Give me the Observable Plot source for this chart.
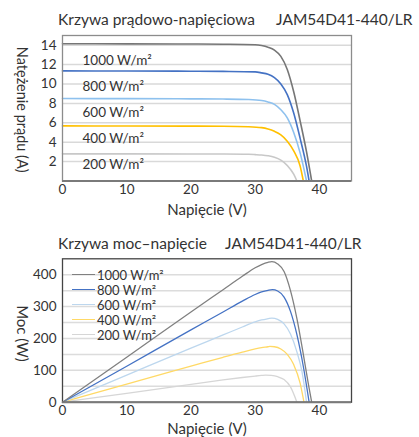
<!DOCTYPE html>
<html><head><meta charset="utf-8">
<script src="https://cdn.jsdelivr.net/npm/d3@7"></script>
<script src="https://cdn.jsdelivr.net/npm/@observablehq/plot@0.6"></script>
<style>
body{margin:0;background:#fff;font-family:Lato,"Open Sans",sans-serif;}
#wrap{position:relative;width:419px;height:437px;overflow:hidden;background:#fff;}
#wrap svg{position:absolute;left:0;}
.t{position:absolute;font-size:15.5px;color:#333;white-space:nowrap;line-height:20px;}
.lg{position:absolute;font-size:13px;color:#333;white-space:nowrap;line-height:14px;}
.lgl{position:absolute;height:0;border-top:1.5px solid #888;}
</style></head><body><div id="wrap"></div>
<script>
// ---- data ----
const series = ["1000 W/m²", "800 W/m²", "600 W/m²", "400 W/m²", "200 W/m²"];
const ivColors = ["#767676", "#4472c4", "#8ec1ee", "#ffc000", "#c8c8c8"];
const pvColors = ["#808080", "#4472c4", "#bdd7ee", "#ffd966", "#d6d6d6"];
const xTicks = [0, 10, 20, 30, 40];
const currentTicks = [2, 4, 6, 8, 10, 12, 14];
const powerTicks = [0, 100, 200, 300, 400];
const powerGrid = [50, 100, 150, 200, 250, 300, 350, 400];

// I-V curves (voltage V, current A)
const iv1000V = [0, 10, 20, 25, 30, 31, 32, 33, 34, 35, 36, 37, 38, 38.8];
const iv1000I = [14.15, 14.14, 14.12, 14.1, 14.05, 13.97, 13.8, 13.5, 12.85, 11.5, 9.2, 6.2, 3.0, 0];
const iv800V = [0, 10, 20, 25, 30, 31, 32, 33, 34, 35, 36, 37, 38, 38.4];
const iv800I = [11.35, 11.34, 11.32, 11.3, 11.25, 11.15, 11.0, 10.65, 10.0, 8.9, 7.0, 4.4, 1.5, 0];
const iv600V = [0, 10, 20, 25, 29, 31, 32, 33, 34, 35, 36, 37, 38];
const iv600I = [8.5, 8.49, 8.47, 8.45, 8.4, 8.3, 8.15, 7.9, 7.35, 6.5, 5.0, 2.9, 0];
const iv400V = [0, 10, 20, 25, 29, 31, 32, 33, 34, 35, 36, 37, 37.5];
const iv400I = [5.68, 5.67, 5.66, 5.65, 5.6, 5.5, 5.36, 5.12, 4.75, 4.1, 3.1, 1.55, 0];
const iv200V = [0, 10, 20, 25, 29, 30, 31, 32, 33, 34, 35, 36, 36.5];
const iv200I = [2.8, 2.8, 2.79, 2.78, 2.75, 2.72, 2.68, 2.6, 2.45, 2.15, 1.6, 0.7, 0];

// P-V curves (voltage V, power W)
const pv1000V = [0, 10, 20, 25, 28, 30, 31, 32, 32.6, 33.5, 34.5, 35.5, 36.5, 37.5, 38.3, 38.8];
const pv1000P = [0, 141, 283, 353, 395, 422, 432, 439, 441, 434, 410, 350, 262, 150, 55, 0];
const pv800V = [0, 10, 20, 25, 28, 30, 31, 32, 32.7, 33.5, 34.5, 35.5, 36.5, 37.5, 38.4];
const pv800P = [0, 113, 227, 283, 317, 338, 346, 351, 353, 349, 330, 285, 212, 112, 0];
const pv600V = [0, 10, 20, 25, 28, 30, 31, 32, 32.6, 33.5, 34.5, 35.5, 36.5, 37.3, 38.0];
const pv600P = [0, 85, 170, 211, 236, 252, 258, 262, 264, 260, 246, 214, 158, 95, 0];
const pv400V = [0, 10, 20, 25, 28, 30, 31, 32, 32.3, 33, 34, 35, 36, 37, 37.6];
const pv400P = [0, 57, 113, 141, 157, 167, 171, 174, 175, 174, 167, 150, 118, 60, 0];
const pv200V = [0, 10, 20, 25, 28, 30, 31, 31.6, 32.5, 33.5, 34.5, 35.5, 36.5];
const pv200P = [0, 28, 56, 70, 77.5, 82, 84, 85, 84, 80, 71, 48, 0];

// ---- build rows ----
const ivSets = [[iv1000V, iv1000I], [iv800V, iv800I], [iv600V, iv600I], [iv400V, iv400I], [iv200V, iv200I]];
const pvSets = [[pv1000V, pv1000P], [pv800V, pv800P], [pv600V, pv600P], [pv400V, pv400P], [pv200V, pv200P]];
const ivRows = [], pvRows = [];
ivSets.forEach(([vs, is], k) => vs.forEach((v, j) => ivRows.push({s: series[k], v, y: is[j]})));
pvSets.forEach(([vs, ps], k) => vs.forEach((v, j) => pvRows.push({s: series[k], v, y: ps[j]})));
const ivDraw = ivRows.slice().reverse();
const pvDraw = pvRows.slice().reverse();

const W = 419;
const wrap = document.getElementById("wrap");
const baseStyle = {fontFamily: "Lato, 'Open Sans', sans-serif", fontSize: "13px", color: "#333", background: "transparent", overflow: "visible"};

// ---- chart 1: I-V ----
const c1 = Plot.plot({
  width: W, height: 220,
  marginLeft: 62, marginRight: 68, marginTop: 35, marginBottom: 39.5,
  style: baseStyle,
  x: {domain: [0, 45]},
  y: {domain: [0, 15]},
  color: {domain: series, range: ivColors},
  marks: [
    Plot.gridY(currentTicks, {stroke: "#d9d9d9", strokeOpacity: 1, strokeWidth: 1.5}),
    Plot.line(ivDraw, {x: "v", y: "y", z: "s", stroke: "s", curve: "monotone-x", strokeWidth: 1.6}),
    Plot.frame({stroke: "#8c8c8c", strokeWidth: 1.3}),
    Plot.ruleY([0], {stroke: "#7a7a7a", strokeWidth: 2}),
    Plot.axisX(xTicks, {tickSize: 0, tickPadding: 3, label: null, fontSize: 13.5}),
    Plot.axisY(currentTicks, {tickSize: 0, tickPadding: 6, label: null, fontSize: 13.5}),
    Plot.text(["Napięcie (V)"], {text: d => d, frameAnchor: "bottom", lineAnchor: "middle", dy: 29.5, fontSize: 15, fill: "#333"}),
    Plot.text(["Natężenie prądu (A)"], {text: d => d, frameAnchor: "left", textAnchor: "middle", lineAnchor: "middle", dx: -41, dy: 1.5, rotate: 90, fontSize: 14.5, fill: "#333"}),
    ...series.map((s, i) => Plot.text([s], {text: d => d, frameAnchor: "top-left", textAnchor: "start", lineAnchor: "middle", dx: 20, dy: 25 + i * 26, fontSize: 13.5, fill: "#333"}))
  ]
});
c1.style.top = "0px";
wrap.appendChild(c1);

// ---- chart 2: P-V ----
const c2 = Plot.plot({
  width: W, height: 217,
  marginLeft: 62, marginRight: 68, marginTop: 38.3, marginBottom: 35.3,
  style: baseStyle,
  x: {domain: [0, 45]},
  y: {domain: [0, 450]},
  color: {domain: series, range: pvColors},
  marks: [
    Plot.gridY(powerGrid, {stroke: "#dcdcdc", strokeOpacity: 1, strokeWidth: 1.5}),
    Plot.line(pvDraw, {x: "v", y: "y", z: "s", stroke: "s", curve: "monotone-x", strokeWidth: 1.3}),
    Plot.frame({stroke: "#444", strokeWidth: 1.3}),
    Plot.ruleY([0], {stroke: "#7a7a7a", strokeWidth: 2}),
    Plot.axisX(xTicks, {tickSize: 0, tickPadding: 3, label: null, fontSize: 13.5}),
    Plot.axisY(powerTicks, {tickSize: 0, tickPadding: 6, label: null, fontSize: 13.5}),
    Plot.text(["Napięcie (V)"], {text: d => d, frameAnchor: "bottom", lineAnchor: "middle", dy: 27, fontSize: 15, fill: "#333"}),
    Plot.text(["Moc (W)"], {text: d => d, frameAnchor: "left", textAnchor: "middle", lineAnchor: "middle", dx: -41, dy: 3, rotate: 90, fontSize: 15, fill: "#333"})
  ]
});
c2.style.top = "220px";
wrap.appendChild(c2);

// ---- titles ----
function addText(cls, txt, left, top) {
  const d = document.createElement("div");
  d.className = cls; d.textContent = txt;
  d.style.left = left + "px"; d.style.top = top + "px";
  wrap.appendChild(d);
  return d;
}
addText("t", "Krzywa prądowo-napięciowa", 58, 9);
addText("t", "JAM54D41-440/LR", 276, 9);
addText("t", "Krzywa moc–napięcie", 58, 233);
addText("t", "JAM54D41-440/LR", 225, 233);

// ---- legend (chart 2) ----
series.forEach((s, i) => {
  const yc = 274.5 + i * 15;
  const l = document.createElement("div");
  l.className = "lgl";
  l.style.left = "72px"; l.style.width = "23px"; l.style.top = (yc - 0.75) + "px";
  l.style.borderTopColor = pvColors[i];
  wrap.appendChild(l);
  addText("lg", s, 97, yc - 7);
});
</script>
</body></html>
